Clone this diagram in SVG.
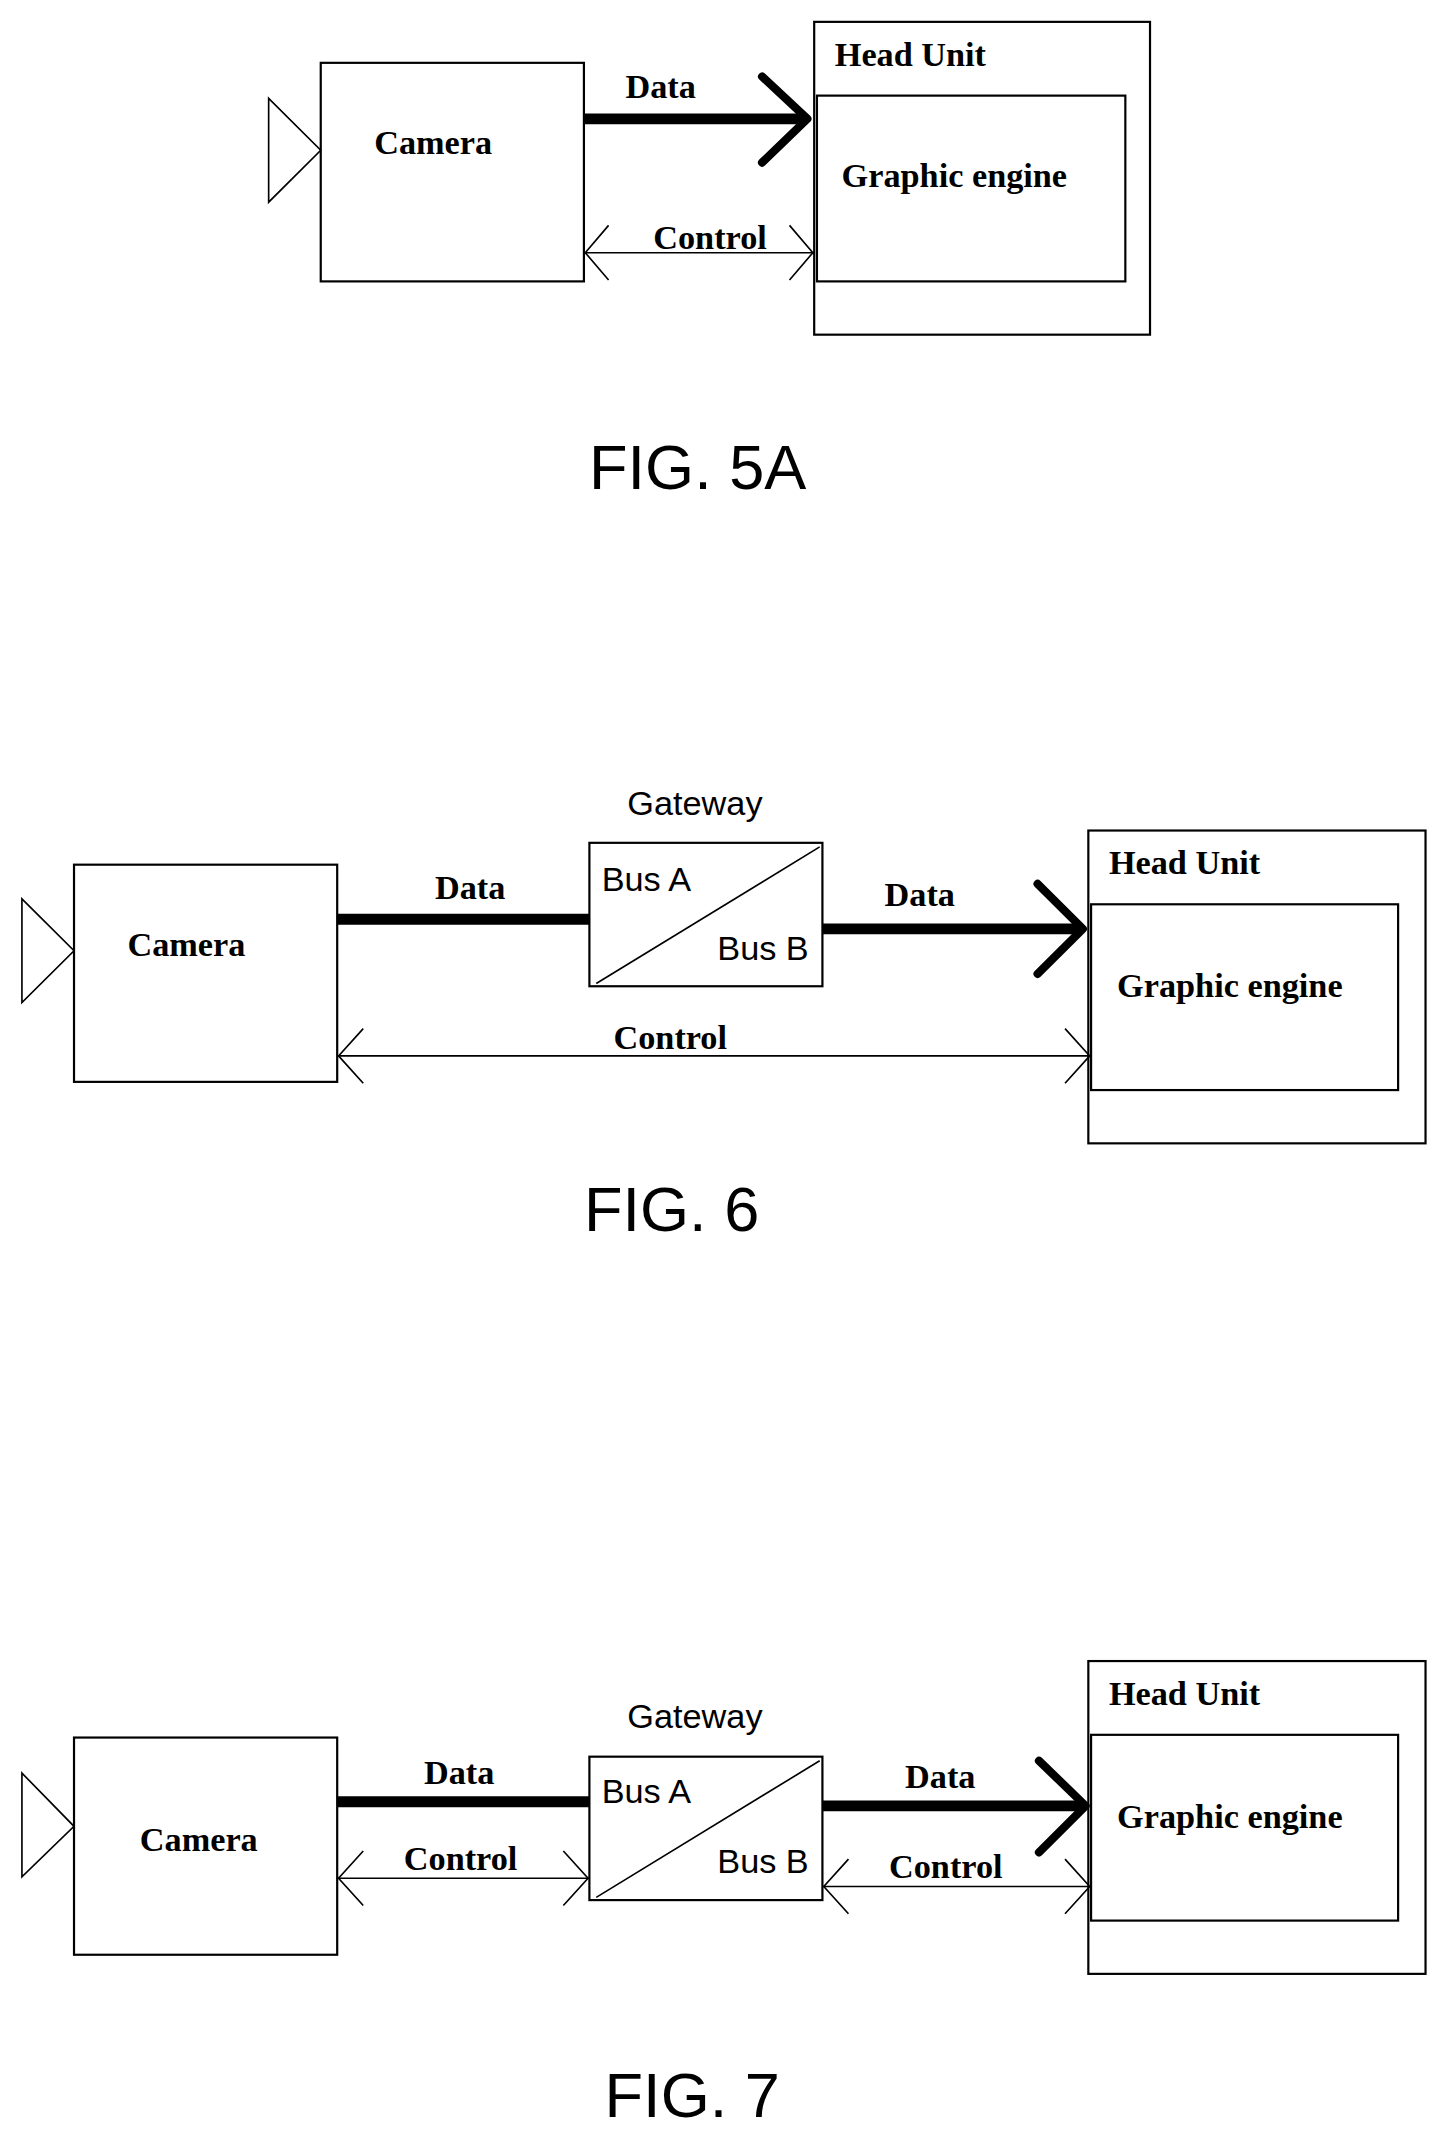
<svg xmlns="http://www.w3.org/2000/svg" width="1442" height="2142" viewBox="0 0 1442 2142">
<style>
.b{fill:#fff;stroke:#000;stroke-width:1.6}
.t{fill:none;stroke:#000;stroke-width:1.2}
.thick{fill:none;stroke:#000;stroke-width:8}
.chev{fill:none;stroke:#000;stroke-width:6;stroke-linecap:round;stroke-linejoin:round}
.lbl{font-family:"Liberation Serif",serif;font-weight:bold;font-size:25px;fill:#000}
.sans{font-family:"Liberation Sans",sans-serif;font-size:25px;fill:#000}
.fig{font-family:"Liberation Sans",sans-serif;font-size:46px;fill:#000;text-anchor:middle}
</style>
<rect width="1442" height="2142" fill="#fff"/>
<g transform="scale(1.3707 1.366)">
<!-- FIG 5A -->
<g id="cam5"><rect class="b" x="234" y="46" width="192" height="160"/><path class="t" d="M196,72 L234,110 L196,148 Z"/><text class="lbl" x="273" y="113">Camera</text></g>
<g id="hu5"><rect class="b" x="594" y="16" width="245" height="229"/><text class="lbl" x="609" y="48">Head Unit</text>
<rect class="b" x="596" y="70" width="225" height="136"/><text class="lbl" x="614" y="137">Graphic engine</text></g>
<g id="conn5">
<line class="thick" x1="426" y1="87" x2="588" y2="87"/><path class="chev" d="M556,56 L589,87 L556,119"/>
<text class="lbl" x="482" y="72" text-anchor="middle">Data</text>
<line class="t" x1="426" y1="185" x2="594" y2="185"/>
<path class="t" d="M444,165 L427,185 L444,205 M576,165 L593,185 L576,205"/>
<text class="lbl" x="518" y="182" text-anchor="middle">Control</text>
</g>
<text class="fig" x="509" y="358">FIG. 5A</text>

<!-- FIG 6 -->
<g id="cam6"><rect class="b" x="54" y="633" width="192" height="159"/><path class="t" d="M16,658 L54,696 L16,734 Z"/><text class="lbl" x="93" y="700">Camera</text></g>
<g id="gw6"><text class="sans" x="507" y="597" text-anchor="middle">Gateway</text><rect class="b" x="430" y="617" width="170" height="105"/>
<line class="t" x1="435" y1="720" x2="598" y2="620"/><text class="sans" x="439" y="652">Bus A</text><text class="sans" x="590" y="703" text-anchor="end">Bus B</text></g>
<g id="hu6"><rect class="b" x="794" y="608" width="246" height="229"/><text class="lbl" x="809" y="640">Head Unit</text>
<rect class="b" x="796" y="662" width="224" height="136"/><text class="lbl" x="815" y="730">Graphic engine</text></g>
<g id="conn6">
<line class="thick" x1="246" y1="673" x2="430" y2="673"/><text class="lbl" x="343" y="658" text-anchor="middle">Data</text>
<line class="thick" x1="600" y1="680" x2="788" y2="680"/><path class="chev" d="M757,647 L790,680 L757,713"/>
<text class="lbl" x="671" y="663" text-anchor="middle">Data</text>
<line class="t" x1="246" y1="773" x2="796" y2="773"/>
<path class="t" d="M265,753 L247,773 L265,793 M777,753 L795,773 L777,793"/>
<text class="lbl" x="489" y="768" text-anchor="middle">Control</text>
</g>
<text class="fig" x="490" y="901">FIG. 6</text>

<!-- FIG 7 -->
<g id="cam7"><rect class="b" x="54" y="1272" width="192" height="159"/><path class="t" d="M16,1298 L54,1337 L16,1374 Z"/><text class="lbl" x="102" y="1355">Camera</text></g>
<g id="gw7"><text class="sans" x="507" y="1265" text-anchor="middle">Gateway</text><rect class="b" x="430" y="1286" width="170" height="105"/>
<line class="t" x1="435" y1="1389" x2="598" y2="1289"/><text class="sans" x="439" y="1320">Bus A</text><text class="sans" x="590" y="1371" text-anchor="end">Bus B</text></g>
<g id="hu7"><rect class="b" x="794" y="1216" width="246" height="229"/><text class="lbl" x="809" y="1248">Head Unit</text>
<rect class="b" x="796" y="1270" width="224" height="136"/><text class="lbl" x="815" y="1338">Graphic engine</text></g>
<g id="conn7">
<line class="thick" x1="246" y1="1319" x2="430" y2="1319"/><text class="lbl" x="335" y="1306" text-anchor="middle">Data</text>
<line class="t" x1="246" y1="1375" x2="430" y2="1375"/>
<path class="t" d="M265,1355 L247,1375 L265,1395 M411,1355 L429,1375 L411,1395"/>
<text class="lbl" x="336" y="1369" text-anchor="middle">Control</text>
<line class="thick" x1="600" y1="1322" x2="791" y2="1322"/><path class="chev" d="M758,1289 L792,1322 L758,1356"/>
<text class="lbl" x="686" y="1309" text-anchor="middle">Data</text>
<line class="t" x1="600" y1="1381" x2="796" y2="1381"/>
<path class="t" d="M619,1361 L601,1381 L619,1401 M777,1361 L795,1381 L777,1401"/>
<text class="lbl" x="690" y="1375" text-anchor="middle">Control</text>
</g>
<text class="fig" x="505" y="1550">FIG. 7</text>
</g>
</svg>
